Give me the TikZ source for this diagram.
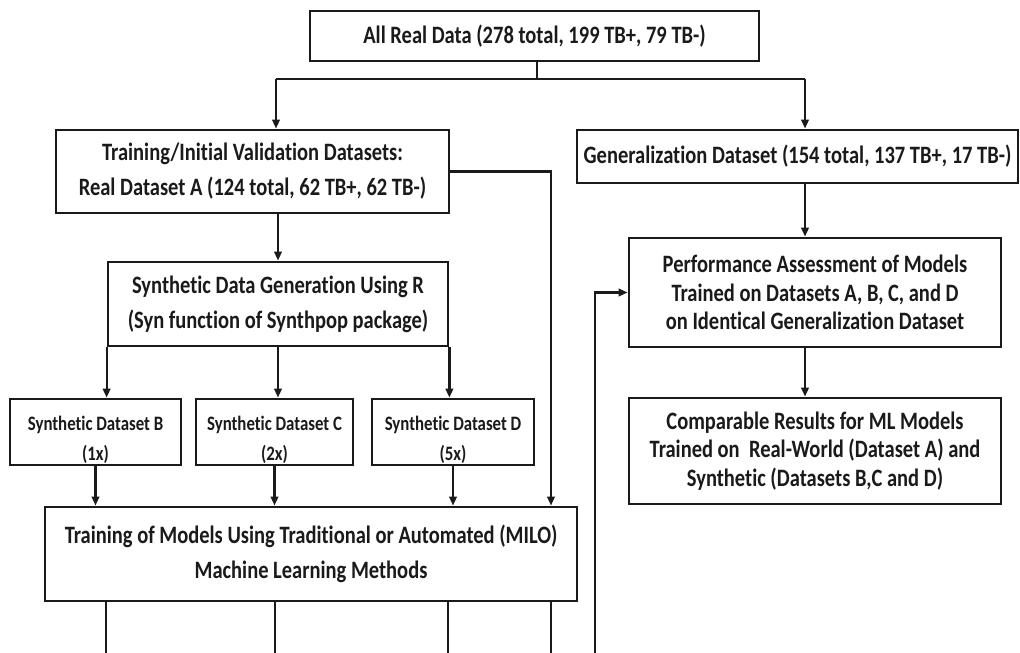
\documentclass[tikz,border=0pt]{standalone}
\usepackage{fontspec}
\setmainfont{Carlito}[FakeStretch=0.82, Ligatures={NoCommon}]
\usetikzlibrary{arrows.meta}
\definecolor{ink}{HTML}{1A1A1A}
% raises the first line of a small box so its text sits lower
\newcommand{\lowerstrut}{\rule{0pt}{30pt}}
\begin{document}
\begin{tikzpicture}[x=1pt,y=-1pt,
  box/.style={draw=ink, line width=2.8pt, inner sep=0pt, align=center, text=ink},
  txtL/.style={font=\bfseries\fontsize{25}{35}\selectfont},
  txtM/.style={font=\bfseries\fontsize{25}{28.5}\selectfont},
  txtS/.style={font=\bfseries\fontsize{20.5}{30}\selectfont},
  conn/.style={draw=ink, line width=2.2pt},
  arr/.style={conn, -{Triangle[length=9pt,width=7.5pt]}}]
\useasboundingbox (0,0) rectangle (1020,653);
\fill[white] (0,0) rectangle (1020,653);

% boxes
\node[box, txtL, minimum width=449pt, minimum height=50pt] (top) at (534.5,36)
  {All Real Data (278 total, 199 TB+, 79 TB-)};
\node[box, txtL, minimum width=393pt, minimum height=83pt] (train) at (252.5,171.5)
  {Training/Initial Validation Datasets:\\Real Dataset A (124 total, 62 TB+, 62 TB-)};
\node[box, txtL, minimum width=441pt, minimum height=53pt] (gen) at (797.5,156.5)
  {Generalization Dataset (154 total, 137 TB+, 17 TB-)};
\node[box, txtL, minimum width=340pt, minimum height=84pt] (synth) at (278,304)
  {Synthetic Data Generation Using R\\(Syn function of Synthpop package)};
\node[box, txtS, minimum width=171pt, minimum height=66pt] (b) at (95.5,432)
  {\lowerstrut Synthetic Dataset B\\(1x)};
\node[box, txtS, minimum width=157pt, minimum height=66pt] (c) at (274.5,432)
  {\lowerstrut Synthetic Dataset C\\(2x)};
\node[box, txtS, minimum width=162pt, minimum height=66pt] (d) at (453,432)
  {\lowerstrut Synthetic Dataset D\\(5x)};
\node[box, txtL, minimum width=532pt, minimum height=94pt] (tm) at (311,554)
  {Training of Models Using Traditional or Automated (MILO)\\Machine Learning Methods};
\node[box, txtM, minimum width=372pt, minimum height=109pt] (perf) at (815,292.5)
  {Performance Assessment of Models\\Trained on Datasets A, B, C, and D\\on Identical Generalization Dataset};
\node[box, txtM, minimum width=372pt, minimum height=106pt] (comp) at (815,451)
  {Comparable Results for ML Models\\Trained on\ \ Real-World (Dataset A) and\\Synthetic (Datasets B,C and D)};

% split below the top box
\coordinate (split) at (537,79);
\coordinate (jl) at (276,79);
\coordinate (jr) at (805,79);
\draw[conn] (top.south -| split) -- (split);
\draw[conn, line width=2.8pt] (jl) -- (jr);
\draw[arr] (jl) -- (jl |- train.north);
\draw[arr] (jr) -- (jr |- gen.north);

% training branch
\draw[arr] (train.south -| synth.north) -- (synth.north);
\coordinate (tr) at (551,171.5);
\draw[arr] (train.east) -- (tr) -- (tr |- tm.north);
\draw[arr] (synth.south west) -- (synth.south west |- b.north);
\draw[arr] (synth.south) -- (synth.south |- c.north);
\draw[arr] (synth.south east) -- (synth.south east |- d.north);
\draw[arr] (b.south) -- (b.south |- tm.north);
\draw[arr] (c.south) -- (c.south |- tm.north);
\draw[arr] (d.south) -- (d.south |- tm.north);

% model outputs leaving the training box
\coordinate (e1) at (106,653);
\coordinate (e2) at (275,653);
\coordinate (e3) at (448,653);
\coordinate (e4) at (551,653);
\foreach \e in {e1,e2,e3,e4} \draw[conn] (tm.south -| \e) -- (\e);

% return path into the assessment
\coordinate (fb) at (595,653);
\draw[arr] (fb) -- (fb |- perf.west) -- (perf.west);

% generalization branch
\draw[arr] (jr |- gen.south) -- (jr |- perf.north);
\draw[arr] (jr |- perf.south) -- (jr |- comp.north);
\end{tikzpicture}
\end{document}
